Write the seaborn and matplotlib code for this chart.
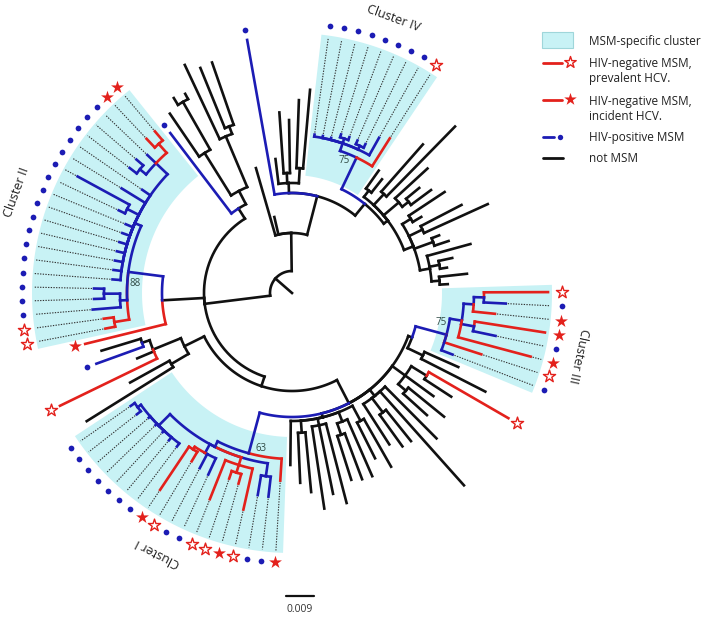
import numpy as np
import pandas as pd
import matplotlib
matplotlib.use("Agg")
import matplotlib.pyplot as plt
import seaborn as sns
from matplotlib.patches import Rectangle

sns.set_theme(style="white")
plt.rcParams['font.family'] = ['Open Sans', 'DejaVu Sans']

RED = "#e3211c"
BLUE = "#1c1cb4"
BLACK = "#111111"
SHADE = "#c8f2f5"
COLORS = {"k": BLACK, "b": BLUE, "r": RED, "p": RED, "i": RED}

CX, CY = 292, 293
FIRST_ANGLE = 0.2     # angle of first leaf (top of Cluster III), degrees
STEP = 3.025          # angular spacing between leaves

# leaf categories, clockwise from the top of Cluster III
# b = HIV-positive MSM, p = HIV-negative MSM prevalent HCV, i = HIV-negative MSM incident HCV, k = not MSM
CAT_C3 = "pbiibipb"
CAT_LR = "kkp" + "k" * 20
CAT_C1 = "ibbpippbbpibbbbbbb"
CAT_LL = "kkpkbki"
CAT_C2 = "pp" + "b" * 17 + "ii"
CAT_UL = "b" + "k" * 8 + "b" + "k" * 5
CAT_C4 = "bbbbbbbbp"
CAT_UR = "k" * 18
LEAF_CAT = CAT_C3 + CAT_LR + CAT_C1 + CAT_LL + CAT_C2 + CAT_UL + CAT_C4 + CAT_UR

# distance from root to each leaf tip (scale bar: 28 units = 0.009)
TIP_C3 = [256, 214, 204, 256, 208, 247, 199, 172]
TIP_LR = [182, 217, 250, 190, 175, 196, 182, 205, 258, 190, 189, 180, 200, 185,
          200, 199, 196, 217, 205, 218, 200, 190, 172]
TIP_C1 = [188, 205, 205, 222, 198, 196, 222, 200, 198, 196, 237, 192, 192, 190,
          190, 190, 197, 197]
TIP_LL = [242, 185, 258, 168, 208, 199, 213]
TIP_C2 = [190, 190, 200, 198, 198, 180, 180, 180, 180, 180, 180, 180, 192, 244,
          200, 182, 205, 205, 200, 212, 212]
TIP_UL = [201, 217, 228, 226, 252, 243, 244, 130, 78, 257, 135, 181, 173, 193, 204]
TIP_C4 = [160, 160, 160, 166, 166, 166, 166, 178, 183]
TIP_UR = [150, 145, 198, 233, 184, 165, 173, 183, 150, 191, 215, 158, 165, 185,
          164, 157, 176, 156]
TIP_R = TIP_C3 + TIP_LR + TIP_C1 + TIP_LL + TIP_C2 + TIP_UL + TIP_C4 + TIP_UR

# MSM-specific clusters: name, first leaf, last leaf, inner radius
CLUSTERS = [("Cluster III", 0, 7, 150),
            ("Cluster I", 31, 48, 144),
            ("Cluster II", 56, 76, 150),
            ("Cluster IV", 92, 100, 118)]
CLUSTER_LABEL_ANGLE = [-12.4, -117.3, 160.0, 69.7]

# tree topology: (node depth, branch colour, children); ints are leaves
C3 = (160, "b", [(172, "b", [(182, "b", [(192, "b", [0, 1]), 2]), (185, "b", [3, 4]), 5]), 6, 7])
C3P = (128, "k", [C3, (145, "k", [8, 9])])
LRA = (140, "k", [(158, "k", [10, 11]), 12, (150, "k", [13, 14])])
LRB = (132, "k", [15, 16, (150, "k", [17, 18]), 19])
LRC = (128, "k", [(145, "k", [20, 21]), (138, "k", [22, (150, "k", [23, 24])]),
                  (135, "k", [25, 26, 27]), (140, "k", [28, 29]), 30])
C1 = (166, "b", [31, (172, "b", [(185, "b", [32, 33]),
                                 (180, "r", [34, (188, "r", [35, 36]), 37]),
                                 (182, "b", [38, 39, (185, "r", [40, 41])]),
                                 (188, "b", [42, 43, 44, 45, 46, (192, "b", [47, 48])])])])
A4 = (124, "k", [C3P, LRA, LRB, LRC, C1])
NL = (120, "k", [(140, "k", [49, 50]), (150, "k", [51, 52, (158, "k", [53, 54])])])
A2 = (98, "k", [A4, NL])
C2 = (165, "b", [(180, "r", [56, 57]), (172, "b", [58, (188, "b", [59, 60])]),
                 (172, "b", [61, 62, 63, 64, 65, 66, 67, (185, "b", [68, 69]), 70, 71,
                             (188, "b", [(196, "b", [72, 73]), 74, (200, "r", [75, 76])])])])
P2 = (130, "k", [55, C2])
NUL = (100, "k", [77, (115, "k", [(165, "k", [78, (220, "k", [79, 80])]),
                                  (170, "k", [81, (178, "k", [82, 83])])])])
A = (88, "k", [A2, P2, NUL])
C4 = (150, "b", [(158, "b", [92, 93, 94, (163, "b", [95, 96]), (162, "b", [97, 98]), 99]), 100])
UR = (120, "k", [(128, "k", [101, 102]), (135, "k", [103, 104]),
                 (140, "k", [105, (148, "k", [106, 107])]),
                 (130, "k", [(140, "k", [108, 109]), (145, "k", [110, 111]), (150, "k", [112, 113]),
                             (140, "k", [114, (150, "k", [115, 116]), (148, "k", [117, 118])])])])
B3 = (115, "k", [C4, UR])
B2 = (100, "k", [86, (110, "k", [87, (120, "k", [88, 89]), (125, "k", [90, 91])]), B3])
B = (60, "k", [84, 85, B2])
TREE = (22, "k", [A, B])

BOOTSTRAP = [(C3, "75"), (C1, "63"), (C2, "88"), (C4, "75")]

LEGEND_LABELS = ["MSM-specific cluster", "HIV-negative MSM,\nprevalent HCV.",
                 "HIV-negative MSM,\nincident HCV.", "HIV-positive MSM", "not MSM"]
SCALE_LEN = 28
SCALE_LABEL = "0.009"

leaf_ang = FIRST_ANGLE - STEP * np.arange(len(LEAF_CAT))
in_cluster = np.zeros(len(LEAF_CAT), bool)
for _, a0, a1, _ in CLUSTERS:
    in_cluster[a0:a1 + 1] = True


def pxy(r, a):
    t = np.radians(a)
    return CX + r * np.cos(t), CY - r * np.sin(t)


node_ang = {}


def place(node):
    if isinstance(node, int):
        return leaf_ang[node]
    angs = [place(k) for k in node[2]]
    node_ang[id(node)] = (angs[0] + angs[-1]) / 2
    return node_ang[id(node)]


place(TREE)

fig = plt.figure(figsize=(7.09, 6.20), dpi=100)
ax = fig.add_axes([0, 0, 1, 1])
ax.set_xlim(0, 709)
ax.set_ylim(620, 0)
ax.axis("off")

# cluster shading
for name, a0, a1, rin in CLUSTERS:
    hi, lo = leaf_ang[a0] + 1.6, leaf_ang[a1] - 1.6
    t = np.linspace(hi, lo, 60)
    xo, yo = pxy(260, t)
    xi, yi = pxy(rin, t[::-1])
    ax.fill(np.r_[xo, xi], np.r_[yo, yi], color=SHADE, lw=0, zorder=0)


def seg_radial(r0, r1, a, col):
    x, y = pxy(np.array([r0, r1]), a)
    ax.plot(x, y, color=col, lw=1.9, zorder=3 if col != BLACK else 2,
            solid_capstyle="projecting")


def seg_arc(r, a0, a1, col):
    if abs(a1 - a0) < 1e-6:
        return
    t = np.linspace(a0, a1, int(abs(a1 - a0) * 2) + 2)
    x, y = pxy(r, t)
    ax.plot(x, y, color=col, lw=1.9, zorder=3 if col != BLACK else 2,
            solid_capstyle="projecting")


def color_of(node):
    if isinstance(node, int):
        return COLORS[LEAF_CAT[node]]
    return COLORS[node[1]]


def draw(node, r_parent):
    if isinstance(node, int):
        seg_radial(r_parent, TIP_R[node], leaf_ang[node], color_of(node))
        return
    r, c, kids = node
    a = node_ang[id(node)]
    seg_radial(r_parent, r, a, COLORS[c])
    for k in kids:
        ka = leaf_ang[k] if isinstance(k, int) else node_ang[id(k)]
        seg_arc(r, a, ka, color_of(k))
        draw(k, r)


draw(TREE, 0)

# dotted extensions inside clusters
for k in np.where(in_cluster)[0]:
    if TIP_R[k] < 255:
        x, y = pxy(np.array([TIP_R[k] + 2, 258]), leaf_ang[k])
        ax.plot(x, y, color="#333333", lw=0.8, ls=(0, (1.2, 1.2)), zorder=1)

# leaf markers
mark_r = np.where(in_cluster, 270, np.array(TIP_R) + 10)
mx, my = pxy(mark_r, leaf_ang)
marks = pd.DataFrame({"x": mx, "y": my, "cat": list(LEAF_CAT)})
sns.scatterplot(data=marks[marks.cat == "b"], x="x", y="y", color=BLUE, s=17,
                linewidth=0, ax=ax, zorder=5, legend=False)
sns.scatterplot(data=marks[marks.cat == "i"], x="x", y="y", color=RED, marker="*",
                s=95, linewidth=0, ax=ax, zorder=5, legend=False)
sns.scatterplot(data=marks[marks.cat == "p"], x="x", y="y", color="white", marker="*",
                s=85, edgecolor=RED, linewidth=1.0, ax=ax, zorder=5, legend=False)

# cluster names
for (name, a0, a1, rin), la in zip(CLUSTERS, CLUSTER_LABEL_ANGLE):
    x, y = pxy(293, la)
    ax.text(x, y, name, rotation=la - 90, ha="center", va="center",
            fontsize=9, color="#222222", rotation_mode="anchor")

# bootstrap values
for node, boot in BOOTSTRAP:
    x, y = pxy(node[0] - 8, node_ang[id(node)] + 4)
    ax.text(x, y, boot, ha="center", va="center", fontsize=7, color="#2f4a44", zorder=6)

# scale bar
ax.plot([300 - SCALE_LEN / 2, 300 + SCALE_LEN / 2], [596, 596], color=BLACK, lw=1.6)
ax.text(300, 609, SCALE_LABEL, ha="center", va="center", fontsize=7.5, color="#333333")

# legend
ax.add_patch(Rectangle((542, 32), 31, 16, facecolor=SHADE, edgecolor="#9fd6da", lw=0.8))
ly = [41, 71, 109, 137, 158]
ax.plot([543, 562], [63, 63], color=RED, lw=2)
ax.scatter([570], [62], marker="*", s=75, color="white", edgecolors=RED, linewidths=1.0, zorder=5)
ax.plot([543, 562], [100, 100], color=RED, lw=2)
ax.scatter([570], [99], marker="*", s=90, color=RED, linewidths=0, zorder=5)
ax.plot([543, 554], [137, 137], color=BLUE, lw=2)
ax.scatter([560], [137], s=15, color=BLUE, linewidths=0, zorder=5)
ax.plot([543, 563], [158, 158], color=BLACK, lw=2)
for yy, lab in zip(ly, LEGEND_LABELS):
    ax.text(589, yy, lab, ha="left", va="center", fontsize=8.5, color="#222222",
            linespacing=1.2)

fig.savefig("out.png", dpi=100)
